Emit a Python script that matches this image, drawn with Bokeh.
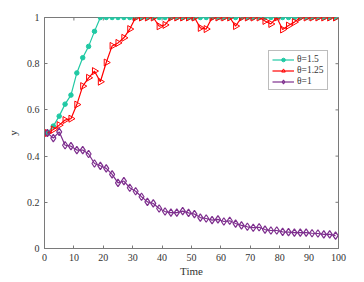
import numpy as np
from bokeh.plotting import figure
from bokeh.models import FixedTicker, Range1d, Legend, LegendItem
from bokeh.embed import file_html
from bokeh.resources import INLINE

# ---- data ----
time = list(range(1, 100, 2))

theta_15 = [0.50, 0.53, 0.573, 0.625, 0.664, 0.760, 0.826, 0.875, 0.94, 1.0] + [1.0] * 40

theta_125 = [0.50, 0.515, 0.534, 0.556, 0.562, 0.623, 0.703, 0.739, 0.768, 0.722,
             0.805, 0.877, 0.890, 0.912, 0.950, 1.0, 1.0, 1.0, 1.0, 0.962,
             0.968, 1.0, 1.0, 1.0, 1.0, 1.0, 0.955, 0.950, 1.0, 1.0,
             1.0, 1.0, 0.963, 1.0, 1.0, 1.0, 1.0, 0.985, 0.972, 1.0,
             0.948, 0.965, 0.980, 1.0, 1.0, 1.0, 1.0, 1.0, 1.0, 1.0]

theta_1 = [0.500, 0.478, 0.505, 0.447, 0.443, 0.426, 0.426, 0.409, 0.368, 0.358,
           0.347, 0.321, 0.284, 0.292, 0.263, 0.248, 0.224, 0.202, 0.195, 0.173,
           0.160, 0.155, 0.155, 0.162, 0.154, 0.149, 0.134, 0.130, 0.123, 0.126,
           0.117, 0.120, 0.108, 0.100, 0.094, 0.090, 0.092, 0.082, 0.078, 0.078,
           0.072, 0.071, 0.069, 0.069, 0.069, 0.066, 0.065, 0.061, 0.061, 0.056]

x_ticks = [0, 10, 20, 30, 40, 50, 60, 70, 80, 90, 100]
y_ticks = [0, 0.2, 0.4, 0.6, 0.8, 1]
y_tick_labels = ["0", "0.2", "0.4", "0.6", "0.8", "1"]
labels = ["θ=1.5", "θ=1.25", "θ=1"]

FONT = "Liberation Serif"
AX = "#7a7a7a"
TXT = "#333333"

p = figure(width=356, height=281, output_backend="svg", toolbar_location=None,
           x_range=Range1d(0, 100), y_range=Range1d(0, 1),
           min_border_left=44, min_border_right=18, min_border_top=17, min_border_bottom=33,
           x_axis_label="Time", y_axis_label="y")
p.background_fill_color = "white"
p.border_fill_color = "white"
p.outline_line_color = AX
p.xgrid.visible = False
p.ygrid.visible = False

for ax in p.xaxis:
    ax.ticker = FixedTicker(ticks=x_ticks)
for ax in p.yaxis:
    ax.ticker = FixedTicker(ticks=y_ticks)
    ax.major_label_overrides = {t: l for t, l in zip(y_ticks, y_tick_labels)}

for ax in list(p.xaxis) + list(p.yaxis):
    ax.axis_line_color = AX
    ax.major_tick_line_color = AX
    ax.major_tick_in = 3
    ax.major_tick_out = 0
    ax.minor_tick_line_color = None
    ax.major_label_text_font = FONT
    ax.major_label_text_font_size = "10px"
    ax.major_label_text_color = TXT
    ax.axis_label_text_font = FONT
    ax.axis_label_text_font_size = "11px"
    ax.axis_label_text_font_style = "normal"
    ax.axis_label_text_color = TXT
    ax.major_label_standoff = 5
    ax.axis_label_standoff = 5
p.xaxis.major_label_standoff = 5
p.xaxis.axis_label_standoff = 1

# inward ticks on the top and right edges of the box (clipped to the frame)
p.scatter(x_ticks, [1] * len(x_ticks), marker="dash", angle=np.pi / 2, size=6,
          line_color=AX, line_width=1)
p.scatter([100] * len(y_ticks), y_ticks, marker="dash", size=6,
          line_color=AX, line_width=1)

c1 = "#20c9a4"
c2 = "#ff0000"
c3 = "#7e2f8e"

l1 = p.line(time, theta_15, line_color=c1, line_width=1.2)
m1 = p.scatter(time, theta_15, marker="circle", size=4.5, line_color=c1, fill_color=c1)
l2 = p.line(time, theta_125, line_color=c2, line_width=1.2)
m2 = p.scatter(time, theta_125, marker="triangle", angle=-np.pi / 2, size=7,
               line_color=c2, fill_color=None, line_width=1)
l3 = p.line(time, theta_1, line_color=c3, line_width=1.2)
m3 = p.scatter(time, theta_1, marker="diamond", size=7.5, line_color=c3, fill_color=None, line_width=1.2)

legend = Legend(items=[LegendItem(label=labels[0], renderers=[l1, m1]),
                       LegendItem(label=labels[1], renderers=[l2, m2]),
                       LegendItem(label=labels[2], renderers=[l3, m3])],
                location=(224, 158))
legend.label_text_font = FONT
legend.label_text_font_size = "9.5px"
legend.label_text_color = TXT
legend.label_height = 9
legend.glyph_height = 9
legend.glyph_width = 22
legend.label_standoff = 3
legend.spacing = 1
legend.padding = 3
legend.margin = 0
legend.border_line_color = AX
legend.background_fill_color = "white"
legend.background_fill_alpha = 1
p.add_layout(legend, "center")

open("out.html", "w").write(file_html(p, INLINE))
